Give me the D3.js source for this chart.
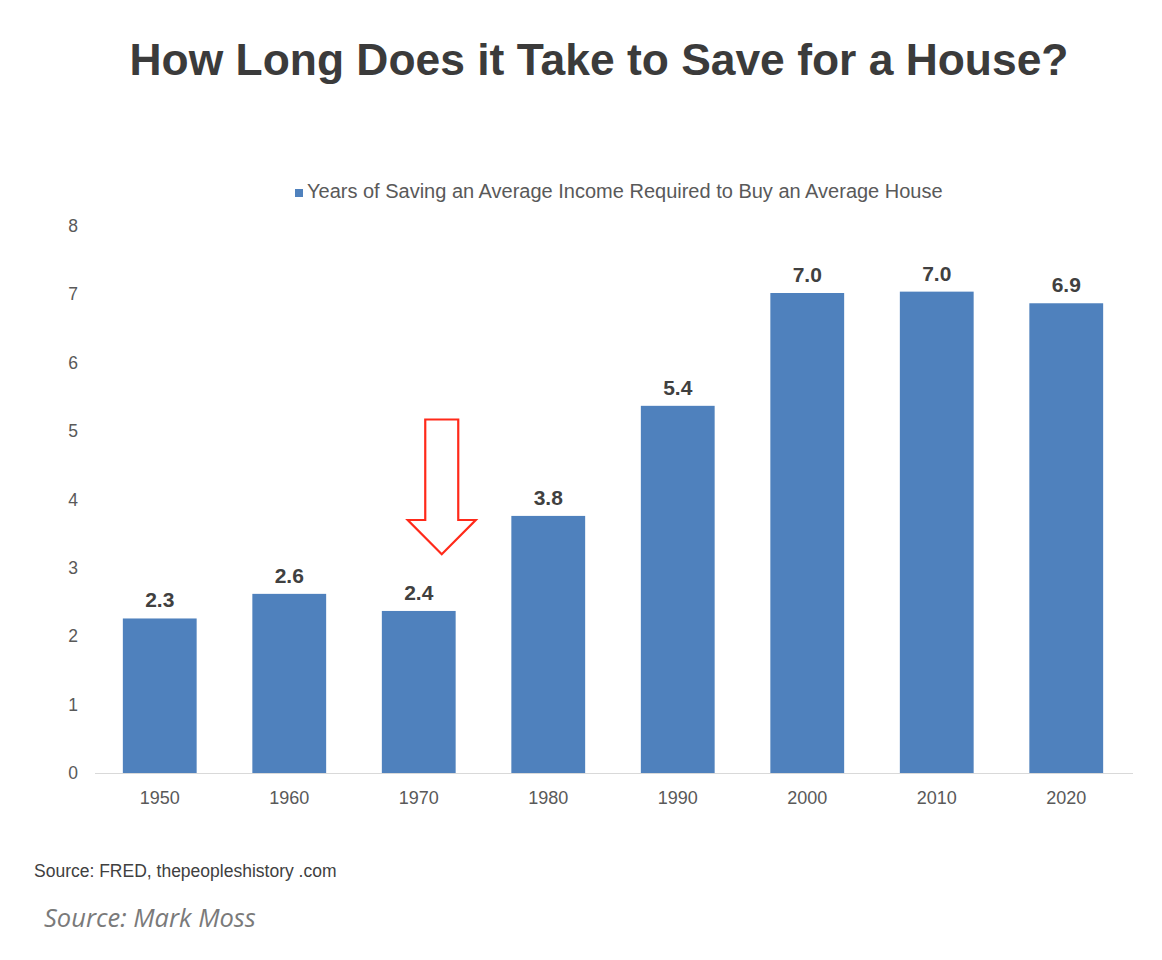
<!DOCTYPE html>
<html><head><meta charset="utf-8">
<script src="https://cdn.jsdelivr.net/npm/d3@7"></script>
<style>body{margin:0;background:#fff}svg{display:block}</style>
</head><body>
<svg id="c" width="1162" height="960"></svg>
<script>
const categories = ["1950","1960","1970","1980","1990","2000","2010","2020"];
const values = [2.26, 2.62, 2.37, 3.76, 5.37, 7.02, 7.04, 6.87];
const yTicks = [0,1,2,3,4,5,6,7,8];
const title = "How Long Does it Take to Save for a House?";
const seriesName = "Years of Saving an Average Income Required to Buy an Average House";
const source1 = "Source: FRED, thepeopleshistory .com";
const source2 = "Source: Mark Moss";

const svg = d3.select("#c");
const x = d3.scaleBand().domain(categories).range([95, 1131]).paddingInner(0.43).paddingOuter(0.215);
const y = d3.scaleLinear().domain([0, 8]).range([773, 226]);
const ff = "Liberation Sans, Arial, sans-serif";

svg.append("text").attr("x", 599).attr("y", 75).attr("text-anchor","middle")
  .attr("font-family",ff).attr("font-weight","bold")
  .attr("font-size", 44.4).attr("fill","#3b3b3b").text(title);

// legend
const lg = svg.append("g");
lg.append("rect").attr("x",295).attr("y",189).attr("width",8).attr("height",8).attr("fill","#4f81bd");
lg.append("text").attr("x",307).attr("y",198).attr("font-family",ff)
  .attr("font-size",20).attr("fill","#595959").text(seriesName);

// y axis labels
svg.append("g").selectAll("text").data(yTicks).join("text")
  .attr("x", 78).attr("y", d => y(d) + 6).attr("text-anchor","end")
  .attr("font-family",ff).attr("font-size",17.5)
  .attr("fill","#595959").text(d => d);

// bars
svg.append("g").selectAll("rect").data(values).join("rect")
  .attr("x",(d,i)=>x(categories[i])).attr("width",x.bandwidth())
  .attr("y",d=>y(d)).attr("height",d=>y(0)-y(d)).attr("fill","#4f81bd");

// axis line
svg.append("line").attr("x1",95).attr("x2",1133).attr("y1",y(0)+0.5).attr("y2",y(0)+0.5)
  .attr("stroke","#d9d9d9").attr("stroke-width",1);

// x labels
svg.append("g").selectAll("text").data(categories).join("text")
  .attr("x", d => x(d) + x.bandwidth()/2).attr("y", 804).attr("text-anchor","middle")
  .attr("font-family",ff).attr("font-size",18)
  .attr("fill","#595959").text(d => d);

// data labels
svg.append("g").selectAll("text").data(values).join("text")
  .attr("x",(d,i)=>x(categories[i]) + x.bandwidth()/2).attr("y",d=>y(d)-11).attr("text-anchor","middle")
  .attr("font-family",ff).attr("font-weight","bold").attr("font-size",21)
  .attr("fill","#404040").text(d => d3.format(".1f")(d));

// arrow annotation near 1970
const cx = x("1970") + x.bandwidth()/2 + 23;
const tipY = y(3.2), neckY = y(3.7), topY = y(5.17);
const pts = [[cx-16.5, topY],[cx+16.5, topY],[cx+16.5, neckY],[cx+34, neckY],[cx, tipY],[cx-34, neckY],[cx-16.5, neckY]];
svg.append("path").attr("d", d3.line()(pts) + "Z").attr("fill","#fff").attr("stroke","#ff2a1a").attr("stroke-width",2.2);

svg.append("text").attr("x",34).attr("y",877).attr("font-family",ff)
  .attr("font-size",17.5).attr("fill","#404040").text(source1);
svg.append("text").attr("x",44).attr("y",927).attr("font-family","Open Sans, sans-serif").attr("font-style","italic")
  .attr("font-size",25.5).attr("fill","#7a7a7a").text(source2);
</script>
</body></html>
